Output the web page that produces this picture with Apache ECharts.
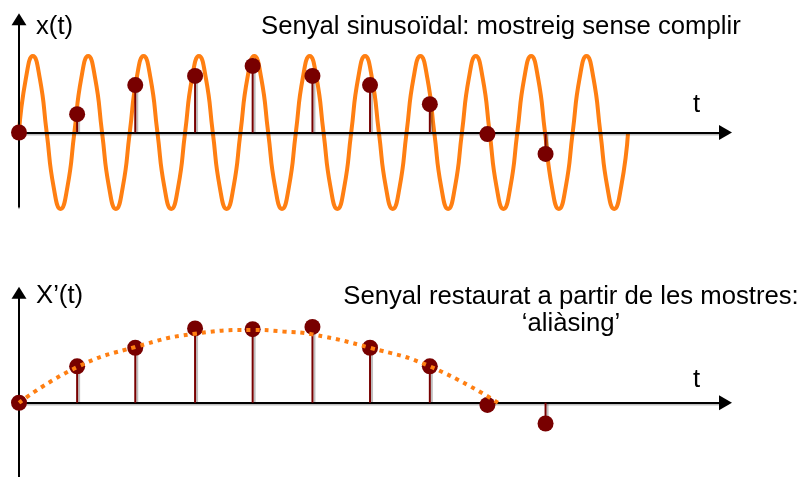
<!DOCTYPE html>
<html>
<head>
<meta charset="utf-8">
<script src="https://cdn.jsdelivr.net/npm/echarts@6/dist/echarts.min.js"></script>
<style>
  html, body { margin: 0; padding: 0; background: #ffffff; }
  #chart { width: 806px; height: 477px; }
</style>
</head>
<body>
<div id="chart"></div>
<script>
// Sinusoid x(t), read every eighth of a period (one period = 1 time unit)
const waveStep = 0.125;
const waveValues = [
  0, 0.71, 1, 0.71, 0, -0.71, -1, -0.71,
  0, 0.71, 1, 0.71, 0, -0.71, -1, -0.71,
  0, 0.71, 1, 0.71, 0, -0.71, -1, -0.71,
  0, 0.71, 1, 0.71, 0, -0.71, -1, -0.71,
  0, 0.71, 1, 0.71, 0, -0.71, -1, -0.71,
  0, 0.71, 1, 0.71, 0, -0.71, -1, -0.71,
  0, 0.71, 1, 0.71, 0, -0.71, -1, -0.71,
  0, 0.71, 1, 0.71, 0, -0.71, -1, -0.71,
  0, 0.71, 1, 0.71, 0, -0.71, -1, -0.71,
  0, 0.71, 1, 0.71, 0, -0.71, -1, -0.71,
  0, 0.71, 1, 0.71, 0, -0.71, -1, -0.71,
  0
];

// Sampling instants, shared by both panels
const sampleTimes = [0, 1.05, 2.10, 3.18, 4.22, 5.30, 6.34, 7.42, 8.46, 9.51];
// Samples taken from x(t)
const sampledValues = [0, 0.24, 0.62, 0.74, 0.87, 0.74, 0.62, 0.37, -0.02, -0.28];
// Samples shown under the restored signal
const restoredSamples = [0, 0.49, 0.74, 1.0, 0.99, 1.02, 0.74, 0.49, -0.03, -0.28];

// Restored (aliased) signal X'(t)
const aliasTimes = [0, 1.05, 2.10, 3.18, 4.22, 4.77, 5.30, 6.34, 7.42, 8.65];
const aliasValues = [0, 0.48, 0.75, 0.93, 0.98, 0.96, 0.92, 0.74, 0.49, 0];

// Text
const topTitle = 'Senyal sinusoïdal: mostreig sense complir';
const bottomTitle = ['Senyal restaurat a partir de les mostres:', '‘aliàsing’'];
const topAxisName = 'x(t)';
const bottomAxisName = 'X’(t)';
const timeName = 't';

const ORANGE = '#ff7f12';
const MAROON = '#780000';
const FONT = '"Liberation Sans", Arial, sans-serif';
const FS = 25.7;

const T_MAX = 12.76;

function axisPair(yMin, yMax) {
  const line = {
    show: true,
    onZero: true,
    symbol: ['none', 'triangle'],
    symbolSize: [15, 13],
    lineStyle: { color: '#000', width: 2, shadowColor: 'rgba(0,0,0,0.25)', shadowOffsetY: 1.5 }
  };
  return {
    x: {
      type: 'value', min: 0, max: T_MAX, z: 3,
      axisLine: line, axisTick: { show: false }, axisLabel: { show: false }, splitLine: { show: false }
    },
    y: {
      type: 'value', min: yMin, max: yMax, z: 3,
      axisLine: Object.assign({}, line, { symbolSize: [15, 12] }),
      axisTick: { show: false }, axisLabel: { show: false }, splitLine: { show: false }
    }
  };
}

const topAxes = axisPair(-0.97, 1.48);
const bottomAxes = axisPair(-1, 1.48);

function stemSeries(xi, yi, values) {
  return {
    type: 'custom',
    xAxisIndex: xi, yAxisIndex: yi, z: 4,
    data: sampleTimes.map((t, i) => [t, values[i]]),
    renderItem: function (params, api) {
      const base = api.coord([api.value(0), 0]);
      const tip = api.coord([api.value(0), api.value(1)]);
      return {
        type: 'line',
        shape: { x1: base[0], y1: base[1], x2: tip[0], y2: tip[1] },
        style: {
          stroke: MAROON, lineWidth: 2,
          shadowColor: 'rgba(0,0,0,0.25)', shadowOffsetX: 2, shadowBlur: 0
        }
      };
    }
  };
}

function dotSeries(xi, yi, values) {
  return {
    type: 'scatter',
    xAxisIndex: xi, yAxisIndex: yi, z: 5,
    symbol: 'circle', symbolSize: 16,
    itemStyle: { color: MAROON, opacity: 1 },
    data: sampleTimes.map((t, i) => [t, values[i]])
  };
}

function textEl(x, y, text, align) {
  return {
    type: 'text', x: x, y: y, z: 10,
    style: {
      text: text, font: FS + 'px ' + FONT, fill: '#000',
      textAlign: align || 'left', align: align || 'left',
      lineHeight: 27
    }
  };
}

const chart = echarts.init(document.getElementById('chart'), null, { renderer: 'canvas' });

chart.setOption({
  backgroundColor: '#ffffff',
  animation: false,
  grid: [
    { left: 19, right: 80.5, top: 19.3, height: 187.4 },
    { left: 19, right: 80.5, top: 292.8, height: 189.7 }
  ],
  xAxis: [Object.assign({ gridIndex: 0 }, topAxes.x), Object.assign({ gridIndex: 1 }, bottomAxes.x)],
  yAxis: [Object.assign({ gridIndex: 0 }, topAxes.y), Object.assign({ gridIndex: 1 }, bottomAxes.y)],
  series: [
    {
      type: 'line',
      xAxisIndex: 0, yAxisIndex: 0, z: 2, clip: false,
      smooth: 0.55, showSymbol: false, symbol: 'none',
      lineStyle: { color: ORANGE, width: 4, join: 'round' },
      data: waveValues.map((v, i) => [i * waveStep, v])
    },
    stemSeries(0, 0, sampledValues),
    dotSeries(0, 0, sampledValues),
    stemSeries(1, 1, restoredSamples),
    dotSeries(1, 1, restoredSamples),
    {
      type: 'line',
      xAxisIndex: 1, yAxisIndex: 1, z: 6, clip: false,
      smooth: 0.5, showSymbol: false, symbol: 'none',
      lineStyle: { color: ORANGE, width: 4, type: [4, 5], cap: 'butt' },
      data: aliasTimes.map((t, i) => [t, aliasValues[i]])
    }
  ],
  graphic: [
    textEl(36, 13, topAxisName),
    textEl(261, 13, topTitle),
    textEl(693, 91, timeName),
    textEl(36, 282, bottomAxisName),
    textEl(571, 283, bottomTitle.join('\n'), 'center'),
    textEl(693, 366, timeName)
  ]
});
</script>
</body>
</html>
